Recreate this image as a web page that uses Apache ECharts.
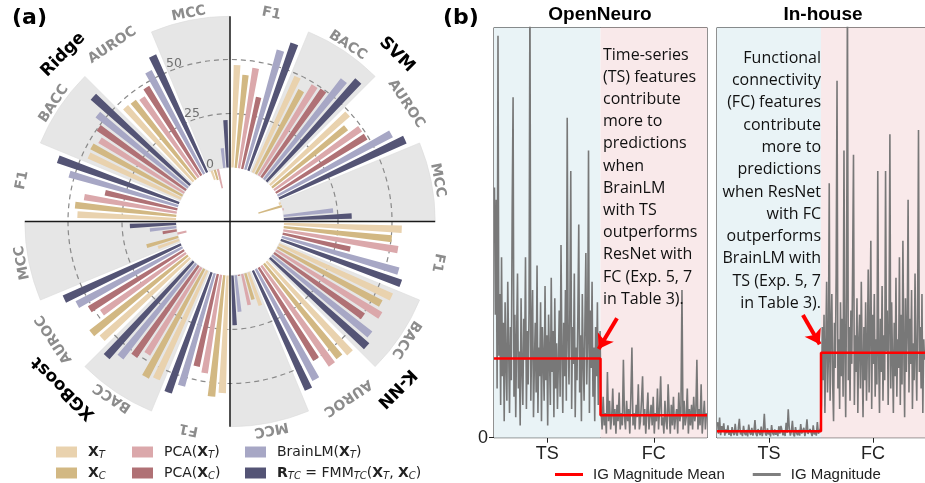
<!DOCTYPE html>
<html><head><meta charset="utf-8">
<script src="https://cdn.jsdelivr.net/npm/echarts@6/dist/echarts.min.js"></script>
<style>html,body{margin:0;padding:0;background:#fff}#c{width:925px;height:483px}</style>
</head><body><div id="c"></div>
<script>
// ---------------- Panel (a) data ----------------
const models = ['SVM', 'K-NN', 'XGBoost', 'Ridge'];
const metrics = ['F1', 'BACC', 'AUROC', 'MCC'];
const shadedMetrics = ['BACC', 'MCC'];
const wedgeTop = 70;
const radialTicks = [0, 25, 50];
// sector order (clockwise from top): SVM F1,BACC,AUROC,MCC, K-NN ..., XGBoost ..., Ridge ...
const valXT     = [47.5, 48.8, 48.8, -1.0, 54.6, 57.5, 57.4, 16.3, 54.5, 55.4, 55.2, 10.4, 45.7, 47.1, 46.7, -4.5];
const valXC     = [43.2, 44.0, 44.1, -11.3, 50.3, 54.5, 55.6, 12.7, 56.4, 56.9, 57.3, 15.2, 47.1, 47.8, 46.3, -5.0];
const valPCAXT  = [46.9, 48.9, 49.0, 0.5, 53.8, 57.1, 56.3, 14.6, 46.1, 47.3, 47.8, -4.3, 43.4, 46.0, 45.2, -9.2];
const valPCAXC  = [34.0, 49.5, 49.1, 0.0, 32.1, 50.6, 50.1, 0.5, 43.8, 51.4, 51.6, 6.6, 34.3, 49.7, 48.1, 0.0];
const valBrainLM= [57.5, 58.9, 59.9, 23.0, 56.3, 58.3, 58.1, 17.0, 54.3, 55.7, 55.5, 12.3, 52.5, 53.7, 54.0, 9.1];
const valRTC    = [62.5, 63.1, 64.4, 31.4, 59.1, 60.7, 60.7, 23.0, 59.1, 59.7, 59.7, 21.4, 59.6, 60.7, 59.6, 22.0];

// ---------------- Panel (b) data ----------------
const onTS = [61, 30, 58, 12, 98, 20, 35, 8, 44, 15, 28, 4, 33, 18, 9, 38, 22, 6, 27, 14,
  56, 83, 10, 30, 5, 25, 40, 12, 21, 3, 34, 17, 8, 29, 19, 44, 7, 26, 13, 31,
  110, 9, 24, 36, 5, 18, 28, 11, 42, 6, 22, 15, 33, 4, 27, 19, 9, 37, 14, 25,
  3, 30, 20, 8, 39, 16, 26, 5, 34, 12, 23, 7, 18, 31, 10, 47, 21, 6, 28, 15,
  36, 9, 78, 24, 13, 32, 65, 7, 27, 18, 40, 5, 22, 14, 30, 52, 11, 25, 4, 35,
  19, 9, 29, 45, 13, 24, 70, 6, 31, 17, 38, 10, 22, 4, 27, 15, 33, 8, 20, 26];
const onFC = [7, 2, 10, 3, 6, 1, 16, 4, 9, 2, 5, 12, 3, 7, 1, 8, 4, 11, 2, 6,
  3, 19, 5, 2, 9, 4, 7, 1, 10, 22, 3, 6, 2, 8, 5, 13, 2, 4, 9, 15,
  3, 7, 1, 6, 11, 2, 5, 8, 3, 10, 1, 6, 4, 12, 2, 7, 15, 3, 5, 1,
  9, 4, 2, 13, 6, 1, 8, 3, 10, 2, 5, 7, 1, 11, 4, 6, 36, 2, 9, 3,
  5, 12, 1, 7, 3, 8, 2, 10, 4, 6, 19, 2, 7, 3, 13, 1, 5, 9, 2, 6];
const ihTS = [3.8, 1.0, 4.9, 0.6, 2.8, 1.4, 3.5, 0.5, 2.0, 1.1, 3.0, 0.7, 1.8, 0.4, 2.6, 1.2, 0.6, 3.4, 1.0, 0.5,
  2.2, 4.6, 0.8, 1.6, 0.4, 2.9, 1.1, 0.6, 1.9, 0.3, 3.2, 1.3, 0.7, 2.4, 0.5, 1.5, 4.3, 0.9, 0.4, 2.1,
  1.2, 0.6, 2.7, 0.4, 1.7, 5.8, 1.0, 0.5, 2.3, 0.8, 1.4, 0.3, 3.1, 1.1, 0.6, 2.0, 0.7, 1.6, 0.4, 2.8,
  1.0, 2.9, 2.5, 0.6, 1.8, 0.4, 3.6, 1.2, 6.9, 2.2, 0.5, 1.5, 4.1, 0.8, 0.3, 2.6, 1.1, 0.6, 1.9, 0.5,
  3.3, 1.0, 0.6, 2.4, 0.4, 1.7, 4.5, 0.9, 0.5, 2.1, 1.2, 0.4, 3.0, 0.8, 1.6, 0.5, 3.8, 1.0, 0.6, 2.3];
const ihFC = [8, 27, 14, 30, 6, 22, 38, 11, 19, 62, 9, 26, 35, 13, 4, 28, 17, 40, 87, 12,
  24, 7, 33, 15, 29, 10, 70, 21, 5, 36, 110, 14, 27, 9, 31, 18, 42, 69, 8, 25,
  16, 34, 6, 23, 30, 12, 38, 19, 5, 27, 14, 33, 9, 22, 41, 11, 26, 48, 7, 30,
  18, 35, 10, 24, 13, 65, 20, 6, 29, 16, 37, 9, 25, 14, 65, 21, 31, 8, 27, 74,
  12, 33, 19, 6, 28, 15, 39, 10, 24, 17, 44, 8, 30, 13, 48, 22, 5, 34, 16, 26,
  58, 11, 29, 18, 36, 7, 23, 14, 40, 20, 9, 31, 75, 16, 27, 12, 35, 6, 24, 19];
const meanOpenNeuro = [19.3, 5.5];
const meanInHouse = [1.6, 20.7];
const xTickLabels = ['TS', 'FC'];

// ---------------- build ----------------
const sectorNames = [];
models.forEach(m => metrics.forEach(k => sectorNames.push(m + ' ' + k)));
const sectorMetric = sectorNames.map(s => s.split(' ').pop());
const wedgeData = sectorMetric.map(k => shadedMetrics.includes(k) ? wedgeTop : '-');

const C = [230, 221.5];
const K = 2.16;
const rMin = -25;
const labelMax = 85;

const seriesDefs = [
  {id: 'XT', data: valXT, color: '#e9d2ae'},
  {id: 'XC', data: valXC, color: '#d2b883'},
  {id: 'PXT', data: valPCAXT, color: '#dba8ab'},
  {id: 'PXC', data: valPCAXC, color: '#b07175'},
  {id: 'BLM', data: valBrainLM, color: '#a7a7c5'},
  {id: 'RTC', data: valRTC, color: '#545475'}
];
const legendText = {
  XT: '{b|X}{s|T}',
  XC: '{b|X}{s|C}',
  PXT: 'PCA({b|X}{s|T})',
  PXC: 'PCA({b|X}{s|C})',
  BLM: 'BrainLM({b|X}{s|T})',
  RTC: '{b|R}{s|TC} = FMM{s|TC}({b|X}{s|T}, {b|X}{s|C})'
};
const rich = {
  b: {fontWeight: 'bold', fontSize: 14, fontFamily: 'DejaVu Sans', color: '#222', lineHeight: 16},
  s: {fontSize: 10, fontStyle: 'italic', fontFamily: 'DejaVu Sans', color: '#222', verticalAlign: 'bottom', lineHeight: 16}
};

// labels around the polar
const labelData = [];
const step = 360 / sectorNames.length;
sectorMetric.forEach((k, i) => {
  const a = step * (i + 0.5);
  labelData.push({value: [73.1, a], label: {formatter: k, rotate: -a, fontSize: 14, color: '#8c8c8c', fontWeight: 'bold'}});
});
models.forEach((m, i) => {
  const a = 45 + 90 * i;
  labelData.push({value: [84.2, a], label: {formatter: m, rotate: -a, fontSize: 17, color: '#000', fontWeight: 'bold'}});
});
radialTicks.forEach(t => {
  labelData.push({value: [t + 2.7, 340.5], label: {formatter: String(t), rotate: 0, fontSize: 12.5, color: '#707070', fontWeight: 'normal'}});
});

const series = [];
series.push({type: 'bar', coordinateSystem: 'polar', polarIndex: 0, data: wedgeData, barCategoryGap: '0%',
  itemStyle: {color: '#e6e6e6', borderColor: '#dcdcdc', borderWidth: 0.6}, z: 1, silent: true});
seriesDefs.forEach(d => series.push({type: 'bar', coordinateSystem: 'polar', polarIndex: 1, name: d.id,
  data: d.data, itemStyle: {color: d.color}, barGap: '40%', barCategoryGap: '12%', z: 4}));
series.push({type: 'scatter', coordinateSystem: 'polar', polarIndex: 2, symbolSize: 1,
  itemStyle: {color: 'rgba(0,0,0,0)'}, silent: true, z: 6,
  label: {show: true, position: 'inside', fontFamily: 'DejaVu Sans', opacity: 1}, data: labelData});

// panel b
function pts(a, offset, span) { return a.map((v, i) => [offset + (i + 0.5) * span / a.length, v]); }
function panelSeries(gi, ts, fc, mean, arrow) {
  const h = 80;
  series.push({type: 'line', xAxisIndex: gi, yAxisIndex: gi, data: [[0, 0]], symbol: 'none', lineStyle: {opacity: 0}, z: 1, silent: true,
    markArea: {silent: true, data: [[{xAxis: 0, itemStyle: {color: '#e9f3f6'}}, {xAxis: h}], [{xAxis: h, itemStyle: {color: '#f9e9ea'}}, {xAxis: 2 * h}]]}});
  series.push({type: 'line', name: 'IG Magnitude', xAxisIndex: gi, yAxisIndex: gi, data: pts(ts, 0, h).concat(pts(fc, h, h)),
    symbol: 'none', lineStyle: {color: '#787878', width: 1.6}, itemStyle: {color: '#7f7f7f'}, z: 2, silent: true});
  series.push({type: 'line', name: 'IG Magnitude Mean', xAxisIndex: gi, yAxisIndex: gi,
    data: [[0, mean[0]], [h, mean[0]], [h, mean[1]], [2 * h, mean[1]]],
    symbol: 'none', lineStyle: {color: '#ff0000', width: 2.5}, itemStyle: {color: '#ff0000'}, z: 3, silent: true,
    markLine: {silent: true, symbol: ['none', 'arrow'], symbolSize: 14, label: {show: false},
      lineStyle: {color: '#ff0000', width: 4, type: 'solid'}, data: [[{coord: arrow[0]}, {coord: arrow[1]}]]}});
}
panelSeries(0, onTS, onFC, meanOpenNeuro, [[92.4, 29.1], [78.6, 21.6]]);
panelSeries(1, ihTS, ihFC, meanInHouse, [[66.1, 29.9], [79.0, 22.8]]);

const xAxisBase = (gi) => ({
  type: 'value', gridIndex: gi, min: 0, max: 160,
  axisLine: {show: true, lineStyle: {color: '#222', width: 1}},
  axisTick: {show: true, customValues: [40, 120], length: 5, lineStyle: {color: '#222'}},
  axisLabel: {show: true, customValues: [40, 120], formatter: v => (v < 80 ? xTickLabels[0] : xTickLabels[1]),
    fontFamily: 'Liberation Sans', fontSize: 18, color: '#222', margin: 7},
  splitLine: {show: false}
});

const legendCommon = {orient: 'vertical', icon: 'rect', itemWidth: 21, itemHeight: 11, itemGap: 5, top: 439, height: 60,
  formatter: n => legendText[n], textStyle: {fontFamily: 'DejaVu Sans', fontSize: 14, color: '#222', lineHeight: 16, padding: [0, 0, 0, 6], rich}};

const option = {
  animation: false,
  backgroundColor: '#fff',
  polar: [
    {center: C, radius: [0, (wedgeTop - rMin) * K]},
    {center: C, radius: [0, (wedgeTop - rMin) * K]},
    {center: C, radius: [0, (labelMax - rMin) * K]}
  ],
  angleAxis: [
    {polarIndex: 0, type: 'category', data: sectorNames, startAngle: 90, clockwise: true, z: 3,
      axisLine: {show: false}, axisTick: {show: false, interval: 0}, axisLabel: {show: false, interval: 0},
      splitLine: {show: true, interval: 0, lineStyle: {color: ['#1a1a1a', 'rgba(0,0,0,0)', 'rgba(0,0,0,0)', 'rgba(0,0,0,0)'], width: 1.5}}},
    {polarIndex: 1, type: 'category', data: sectorNames, startAngle: 90, clockwise: true,
      axisLine: {show: false}, axisTick: {show: false}, axisLabel: {show: false}, splitLine: {show: false}},
    {polarIndex: 2, type: 'value', min: 0, max: 360, startAngle: 90, clockwise: true,
      axisLine: {show: false}, axisTick: {show: false}, axisLabel: {show: false}, splitLine: {show: false}}
  ],
  radiusAxis: [
    {polarIndex: 0, type: 'value', min: rMin, max: wedgeTop, interval: 25, z: 3,
      axisLine: {show: false}, axisTick: {show: false}, axisLabel: {show: false},
      splitLine: {show: true, lineStyle: {type: [5, 4], width: 1.2, color: ['rgba(0,0,0,0)', 'rgba(0,0,0,0)', '#8a8a8a', '#8a8a8a', 'rgba(0,0,0,0)', 'rgba(0,0,0,0)']}}},
    {polarIndex: 1, type: 'value', min: rMin, max: wedgeTop,
      axisLine: {show: false}, axisTick: {show: false}, axisLabel: {show: false}, splitLine: {show: false}},
    {polarIndex: 2, type: 'value', min: rMin, max: labelMax,
      axisLine: {show: false}, axisTick: {show: false}, axisLabel: {show: false}, splitLine: {show: false}}
  ],
  grid: [
    {left: 494, top: 27.5, width: 213, height: 410.2, show: true, borderColor: '#222', borderWidth: 1, backgroundColor: 'transparent'},
    {left: 717, top: 27.5, width: 213, height: 410.2, show: true, borderColor: '#222', borderWidth: 1, backgroundColor: 'transparent'}
  ],
  xAxis: [xAxisBase(0), xAxisBase(1)],
  yAxis: [
    {type: 'value', gridIndex: 0, min: 0, max: 100,
      axisLine: {show: true, lineStyle: {color: '#222'}},
      axisTick: {show: true, customValues: [0], length: 5, lineStyle: {color: '#222'}},
      axisLabel: {show: true, customValues: [0], fontFamily: 'Liberation Sans', fontSize: 18, color: '#222', margin: 6},
      splitLine: {show: false}},
    {type: 'value', gridIndex: 1, min: 0, max: 100,
      axisLine: {show: true, lineStyle: {color: '#222'}}, axisTick: {show: false}, axisLabel: {show: false}, splitLine: {show: false}}
  ],
  legend: [
    Object.assign({data: ['XT', 'XC'], left: 51}, legendCommon),
    Object.assign({data: ['PXT', 'PXC'], left: 127}, legendCommon),
    Object.assign({data: ['BLM', 'RTC'], left: 240}, legendCommon),
    {data: ['IG Magnitude Mean', 'IG Magnitude'], left: 550, top: 462, orient: 'horizontal', icon: 'rect', itemWidth: 28, itemHeight: 3, itemGap: 28,
      textStyle: {fontFamily: 'Liberation Sans', fontSize: 15, color: '#222', padding: [0, 0, 0, 5]}}
  ],
  graphic: [
    {type: 'text', left: 12, top: 7, style: {text: '(a)', font: 'bold 22px "DejaVu Sans"', fill: '#000'}},
    {type: 'text', left: 443, top: 7, style: {text: '(b)', font: 'bold 22px "DejaVu Sans"', fill: '#000'}},
    {type: 'text', x: 600, y: 15, style: {text: 'OpenNeuro', font: 'bold 19px "Liberation Sans"', fill: '#000', align: 'center', verticalAlign: 'middle'}},
    {type: 'text', x: 823, y: 15, style: {text: 'In-house', font: 'bold 19px "Liberation Sans"', fill: '#000', align: 'center', verticalAlign: 'middle'}},
    {type: 'text', x: 603, y: 43.9, z: 10, style: {text: 'Time-series\n(TS) features\ncontribute\nmore to\npredictions\nwhen\nBrainLM\nwith TS\noutperforms\nResNet with\nFC (Exp. 5, 7\nin Table 3).',
      font: '16px "Open Sans"', lineHeight: 22.2, fill: '#111', align: 'left', verticalAlign: 'top'}},
    {type: 'text', x: 821, y: 47, z: 10, style: {text: 'Functional\nconnectivity\n(FC) features\ncontribute\nmore to\npredictions\nwhen ResNet\nwith FC\noutperforms\nBrainLM with\nTS (Exp. 5, 7\nin Table 3).',
      font: '16px "Open Sans"', lineHeight: 22.3, fill: '#111', align: 'right', verticalAlign: 'top'}}
  ],
  series
};
const chart = echarts.init(document.getElementById('c'), null, {renderer: 'canvas'});
chart.setOption(option);
</script></body></html>
